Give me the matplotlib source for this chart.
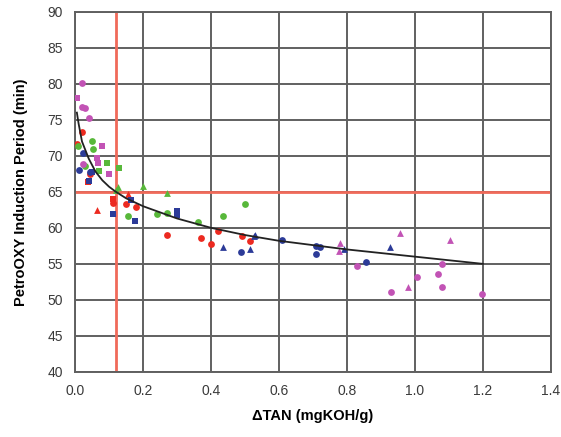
import numpy as np
import matplotlib.pyplot as plt

plt.rcParams['font.family'] = ['Liberation Sans', 'DejaVu Sans']

# fitted trend curve
fit_x = [0.005, 0.01, 0.02, 0.04, 0.06, 0.08, 0.1, 0.12, 0.15, 0.2, 0.3, 0.4, 0.5, 0.6, 0.8, 1.0, 1.2]
fit_y = [76.0, 74.5, 72.0, 69.6, 67.8, 66.6, 65.7, 65.0, 64.1, 63.0, 61.3, 60.0, 59.0, 58.2, 57.0, 56.0, 55.0]

# red
red_circ_x = [0.02, 0.006, 0.27, 0.37, 0.40, 0.42, 0.49, 0.515, 0.11, 0.15, 0.18, 0.045]
red_circ_y = [73.3, 71.7, 59.0, 58.6, 57.8, 59.6, 58.9, 58.2, 63.5, 63.3, 62.9, 67.5]
red_tri_x = [0.065, 0.156]
red_tri_y = [62.5, 64.7]
red_sq_x = [0.038, 0.11]
red_sq_y = [66.4, 64.0]

# green
green_circ_x = [0.009, 0.05, 0.053, 0.156, 0.24, 0.27, 0.36, 0.435, 0.5, 0.03]
green_circ_y = [71.3, 72.0, 71.0, 61.7, 61.9, 62.1, 60.8, 61.7, 63.3, 68.6]
green_tri_x = [0.127, 0.2, 0.27, 0.12]
green_tri_y = [65.7, 65.8, 64.9, 65.3]
green_sq_x = [0.094, 0.13, 0.07]
green_sq_y = [69.0, 68.3, 67.9]

# blue
blue_circ_x = [0.023, 0.01, 0.045, 0.488, 0.61, 0.71, 0.72, 0.71, 0.856]
blue_circ_y = [70.4, 68.0, 67.8, 56.7, 58.3, 57.5, 57.4, 56.3, 55.3]
blue_tri_x = [0.435, 0.515, 0.526, 0.53, 0.926, 0.79]
blue_tri_y = [57.4, 57.1, 58.9, 59.0, 57.4, 57.1]
blue_sq_x = [0.05, 0.04, 0.112, 0.176, 0.30, 0.30, 0.165]
blue_sq_y = [67.8, 66.5, 61.9, 61.0, 62.4, 61.8, 63.8]

# magenta
mag_circ_x = [0.02, 0.02, 0.03, 0.04, 0.024, 0.83, 0.93, 1.005, 1.067, 1.08, 1.08, 1.197]
mag_circ_y = [80.1, 76.8, 76.6, 75.3, 68.8, 54.7, 51.1, 53.2, 53.6, 55.0, 51.8, 50.8]
mag_tri_x = [0.956, 1.103, 0.78, 0.777, 0.98]
mag_tri_y = [59.3, 58.3, 57.9, 56.8, 51.8]
mag_sq_x = [0.006, 0.08, 0.065, 0.068, 0.10]
mag_sq_y = [78.0, 71.4, 69.7, 69.0, 67.5]

red = '#ec2a20'
green = '#58b83a'
blue = '#2c3b98'
magenta = '#c253b5'

fig = plt.figure(figsize=(5.61, 4.37), dpi=100)
ax = fig.add_axes([0.134, 0.149, 0.848, 0.824])

ax.set_xlim(0, 1.4)
ax.set_ylim(40, 90)
ax.set_xticks(np.arange(0, 1.41, 0.2))
ax.set_yticks(np.arange(40, 91, 5))
ax.grid(True, color='#606060', linewidth=1.4)
ax.set_axisbelow(True)
for s in ax.spines.values():
    s.set_color('#606060')
    s.set_linewidth(1.4)
ax.tick_params(length=0, pad=9, labelsize=10, labelcolor='#3a3a3a')
ax.set_xticklabels(['%.1f' % v for v in np.arange(0, 1.41, 0.2)])

# limit lines
ax.axhline(65, color='#f06a5a', linewidth=2, zorder=2)
ax.axvline(0.12, color='#f06a5a', linewidth=2, zorder=2)

ms = 24
groups = [
    (red_circ_x, red_circ_y, red, 'o'), (red_tri_x, red_tri_y, red, '^'), (red_sq_x, red_sq_y, red, 's'),
    (green_circ_x, green_circ_y, green, 'o'), (green_tri_x, green_tri_y, green, '^'), (green_sq_x, green_sq_y, green, 's'),
    (blue_circ_x, blue_circ_y, blue, 'o'), (blue_tri_x, blue_tri_y, blue, '^'), (blue_sq_x, blue_sq_y, blue, 's'),
    (mag_circ_x, mag_circ_y, magenta, 'o'), (mag_tri_x, mag_tri_y, magenta, '^'), (mag_sq_x, mag_sq_y, magenta, 's'),
]
for gx, gy, c, m in groups:
    ax.scatter(gx, gy, s=ms, color=c, marker=m, linewidths=0, zorder=3)

ax.plot(fit_x, fit_y, color='#222222', linewidth=1.3, zorder=4)

ax.set_xlabel('ΔTAN (mgKOH/g)', fontsize=10.5, fontweight='bold', labelpad=8)
ax.set_ylabel('PetroOXY Induction Period (min)', fontsize=10.5, fontweight='bold', labelpad=14)

fig.savefig('out.png', dpi=100)
